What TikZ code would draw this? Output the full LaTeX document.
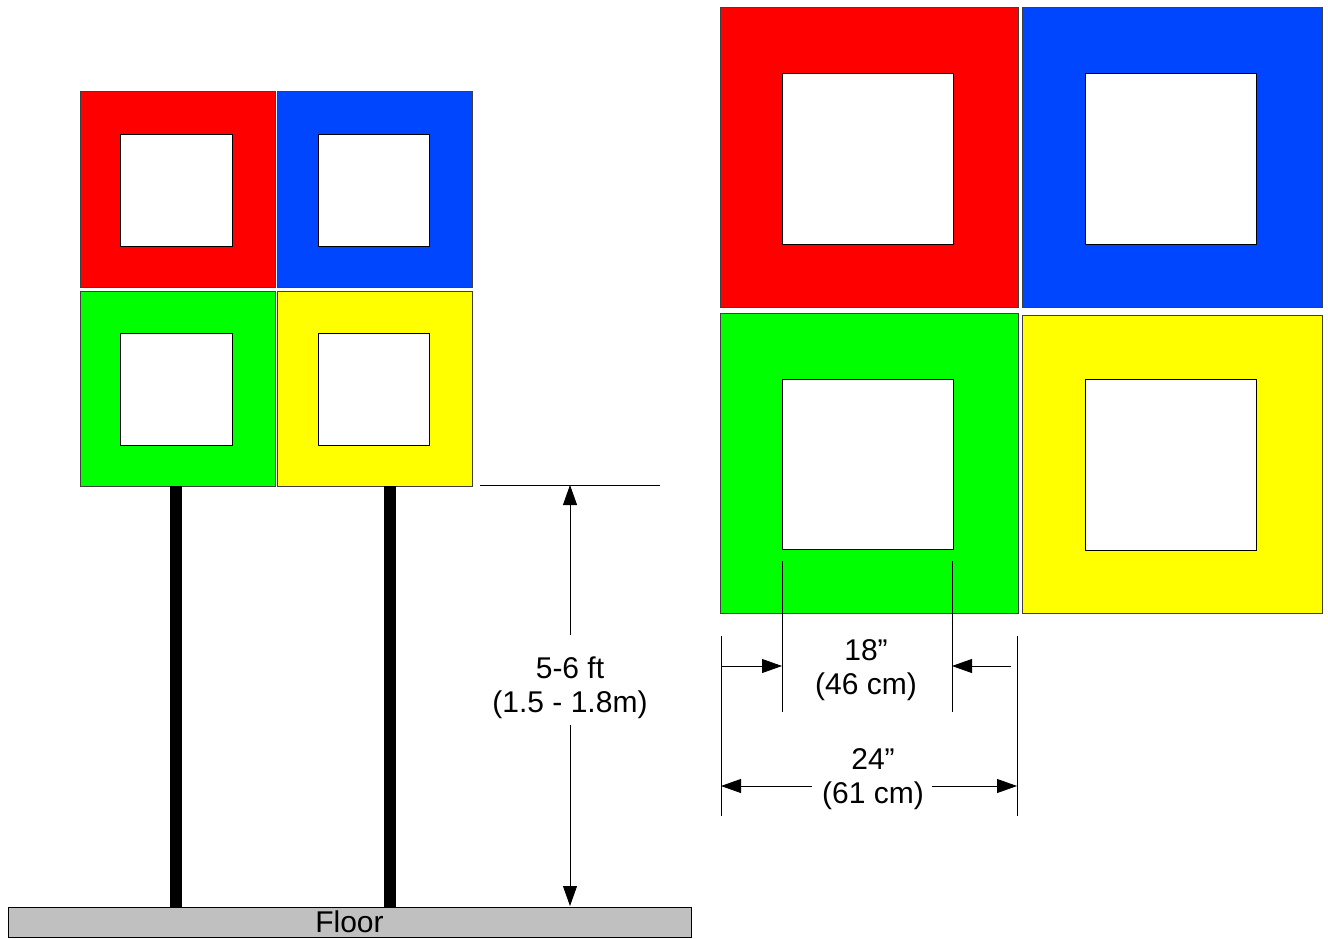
\documentclass[tikz,border=0pt]{standalone}
\usepackage{fontspec}
\setmainfont{Liberation Sans}
\usetikzlibrary{arrows.meta}
\definecolor{cred}{HTML}{FF0000}
\definecolor{cblue}{HTML}{0045FF}
\definecolor{cgreen}{HTML}{00FF00}
\definecolor{cyellow}{HTML}{FFFF00}
\definecolor{cfloor}{HTML}{C0C0C0}
\newcommand\panelsq[9]{%
  \draw[panel, fill=#1] (#2,#3) rectangle (#4,#5);
  \draw[hole] (#6,#7) rectangle (#8,#9);}
\begin{document}
\begin{tikzpicture}[x=1pt,y=-1pt,
  panel/.style={draw=black!75, line width=1pt},
  hole/.style={draw=black, fill=white, line width=1pt},
  dim/.style={line width=0.8pt},
  tip/.style={dim, -{Triangle[length=20pt,width=14pt]}},
  lbl/.style={font=\fontsize{30}{34}\selectfont, align=center, inner sep=0pt},
  pole/.style={fill=black}]
\useasboundingbox (0,0) rectangle (1328,939);
% left sign
\panelsq{cred}{80}{92}{275}{287}{120}{135}{232}{246}
\panelsq{cblue}{277}{92}{472}{287}{318}{135}{429}{246}
\panelsq{cgreen}{80}{291}{275}{486}{120}{333}{232}{445}
\panelsq{cyellow}{277}{291}{472}{486}{318}{333}{429}{445}
% poles
\fill[pole] (170,486) rectangle (182,907);
\fill[pole] (384,486) rectangle (396,907);
% floor
\node[draw=black, fill=cfloor, line width=1pt, minimum width=683pt, minimum height=30pt, inner sep=0pt,
  font=\fontsize{30}{34}\selectfont] (floor) at (349.5,922) {Floor};
% height dimension
\coordinate (ext1) at (480,485);
\coordinate (ext2) at (660,485);
\draw[dim] (ext1) -- (ext2);
\node[lbl] (h) at (570,688) {5-6 ft\\(1.5 - 1.8m)};
\coordinate (hA) at (570,635);
\coordinate (hAt) at (570,485);
\coordinate (hB) at (570,725);
\coordinate (hBt) at (570,906);
\draw[tip] (hA) -- (hAt);
\draw[tip] (hB) -- (hBt);
% right sign
\panelsq{cred}{720}{8}{1018}{307}{782}{74}{953}{244}
\panelsq{cblue}{1022}{8}{1322}{307}{1085}{74}{1256}{244}
\panelsq{cgreen}{720}{313}{1018}{613}{782}{379}{953}{549}
\panelsq{cyellow}{1022}{315}{1322}{613}{1085}{379}{1256}{550}
% extension lines
\draw[dim] (782,561) -- (782,712);
\draw[dim] (952,561) -- (952,712);
\draw[dim] (721,636) -- (721,816);
\draw[dim] (1017,636) -- (1017,816);
% 18 inch
\coordinate (a1) at (721,666);
\coordinate (a1t) at (782,666);
\coordinate (a2) at (1011,666);
\coordinate (a2t) at (952,666);
\draw[tip] (a1) -- (a1t);
\draw[tip] (a2) -- (a2t);
\node[lbl] (in18) at (866,670) {18”\\(46 cm)};
% 24 inch
\coordinate (b1) at (812,786);
\coordinate (b1t) at (721,786);
\coordinate (b2) at (932,786);
\coordinate (b2t) at (1017,786);
\draw[tip] (b1) -- (b1t);
\draw[tip] (b2) -- (b2t);
\node[lbl] (in24) at (873,779) {24”\\(61 cm)};
\end{tikzpicture}
\end{document}
